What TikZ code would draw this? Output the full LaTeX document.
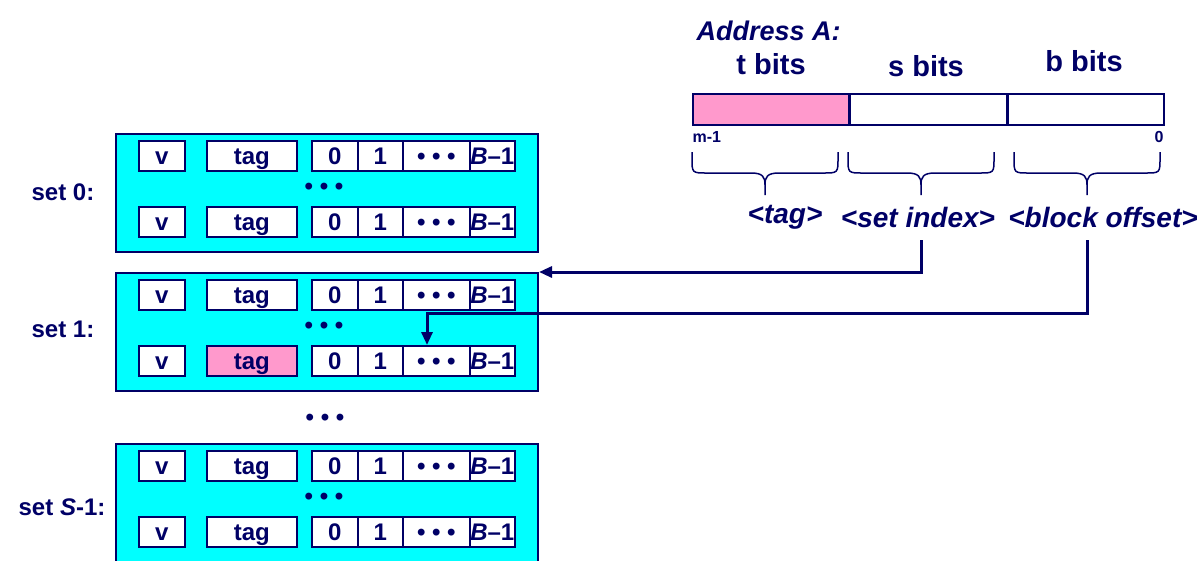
\documentclass[tikz,border=0pt]{standalone}
\usepackage{fontspec}
\setmainfont{Liberation Sans}
\usetikzlibrary{arrows.meta}

\definecolor{navy}{RGB}{0,0,102}
\definecolor{setcyan}{RGB}{0,255,255}
\definecolor{tagpink}{RGB}{255,153,204}

\tikzset{
  setbox/.style={draw=navy, fill=setcyan, line width=2pt, anchor=north west, inner sep=0pt,
    minimum width=422pt, minimum height=118pt},
  cell/.style={draw=navy, fill=white, line width=1.6pt, anchor=north west, inner sep=0pt,
    minimum height=30pt, text height=17.2pt, text depth=0pt, text=navy,
    font=\fontsize{24}{24}\selectfont\bfseries},
  bitfield/.style={draw=navy, fill=white, line width=1.6pt, anchor=north west, inner sep=0pt,
    minimum height=31pt, minimum width=156pt},
  setlabel/.style={text=navy, font=\fontsize{24}{24}\selectfont\bfseries},
  head/.style={text=navy, font=\fontsize{29}{29}\selectfont\bfseries},
  field/.style={text=navy, font=\fontsize{28}{28}\selectfont\bfseries\itshape},
  bitno/.style={text=navy, font=\fontsize{16}{16}\selectfont\bfseries},
  rowdots/.style={text=navy, font=\fontsize{24}{24}\selectfont\bfseries},
  bracestroke/.style={draw=navy, line width=1.5pt},
  lookup/.style={draw=navy, line width=3pt, -{Triangle[length=13pt,width=11pt]}}
}

\newcommand{\dotrun}{\textbullet\ \textbullet\ \textbullet}

% one cache line: prefix, top edge, fill of the tag
\newcommand{\cacheline}[3]{%
  \node[cell, minimum width=46pt] (#1v) at (138,#2) {v};
  \node[cell, minimum width=90pt, fill=#3] (#1tag) at (206,#2) {tag};
  \node[cell, minimum width=46pt] (#1w0) at (311,#2) {0};
  \node[cell, minimum width=45pt] (#1w1) at (357,#2) {1};
  \node[cell, minimum width=67pt] (#1wd) at (402,#2) {\dotrun};
  \node[cell, minimum width=45pt] (#1wl) at (469,#2) {\textit{B}--1};
}

% curly brace under the address: left x, right x
\newcommand{\addrbrace}[2]{%
  \pgfmathsetmacro{\bracemid}{(#1+#2)/2}
  \draw[bracestroke] (#1,152) -- (#1,158) .. controls (#1,173) and (#1,173) .. (#1+15,173)
    -- (\bracemid-14,173) .. controls (\bracemid-2,173) and (\bracemid,177) .. (\bracemid,185)
    -- (\bracemid,195)
    (\bracemid,185) .. controls (\bracemid,177) and (\bracemid+2,173) .. (\bracemid+14,173)
    -- (#2-15,173) .. controls (#2,173) and (#2,173) .. (#2,158) -- (#2,152);
}

\begin{document}
\begin{tikzpicture}[x=1pt, y=-1pt]
  \useasboundingbox (0,0) rectangle (1204,560);

  % the sets
  \node[setbox] (set0) at (115,133) {};
  \node[setbox] (set1) at (115,272) {};
  \node[setbox] (setS) at (115,443) {};

  \cacheline{s0a}{140}{white}
  \cacheline{s0b}{206}{white}
  \cacheline{s1a}{279}{white}
  \cacheline{s1b}{345}{tagpink}
  \cacheline{sSa}{450}{white}
  \cacheline{sSb}{516}{white}

  \node[rowdots] (s0dots) at (324,189) {\dotrun};
  \node[rowdots] (s1dots) at (324,328) {\dotrun};
  \node[rowdots] (sSdots) at (324,499) {\dotrun};
  \node[rowdots] (gapdots) at (325,420) {\dotrun};

  \node[setlabel] (lab0) at (63,192) {set 0:};
  \node[setlabel] (lab1) at (63,329) {set 1:};
  \node[setlabel] (labS) at (62,507) {set \textit{S}-1:};

  % the address
  \node[field, anchor=west, font=\fontsize{27}{27}\selectfont\bfseries\itshape] (addr) at (693,31) {Address A:};
  \node[bitfield, fill=tagpink] (tfield) at (692,93) {};
  \node[bitfield] (sfield) at (tfield.north east) {};
  \node[bitfield] (bfield) at (sfield.north east) {};
  \node[head] (tbits) at (771,64) {t bits};
  \node[head] (sbits) at (926,66) {s bits};
  \node[head] (bbits) at (1084,61) {b bits};
  \node[bitno, anchor=west] (msb) at (689,137) {m-1};
  \node[bitno] (lsb) at (1159,137) {0};

  \addrbrace{692}{838}
  \addrbrace{848}{994}
  \addrbrace{1014}{1160}

  \node[field] (tagf) at (785,217) {<tag>};
  \node[field] (idxf) at (918,217) {<set index>};
  \node[field] (offf) at (1103,217) {<block offset>};

  % set index selects the set, offset selects the word
  \coordinate (tap2) at (921,240);
  \coordinate (tap3) at (1087,240);
  \coordinate (bend) at (427,313);
  \draw[lookup] (tap2) |- (set1.north east);
  \draw[lookup] (tap3) |- (bend) -- (bend |- s1bwd.north);
\end{tikzpicture}
\end{document}
